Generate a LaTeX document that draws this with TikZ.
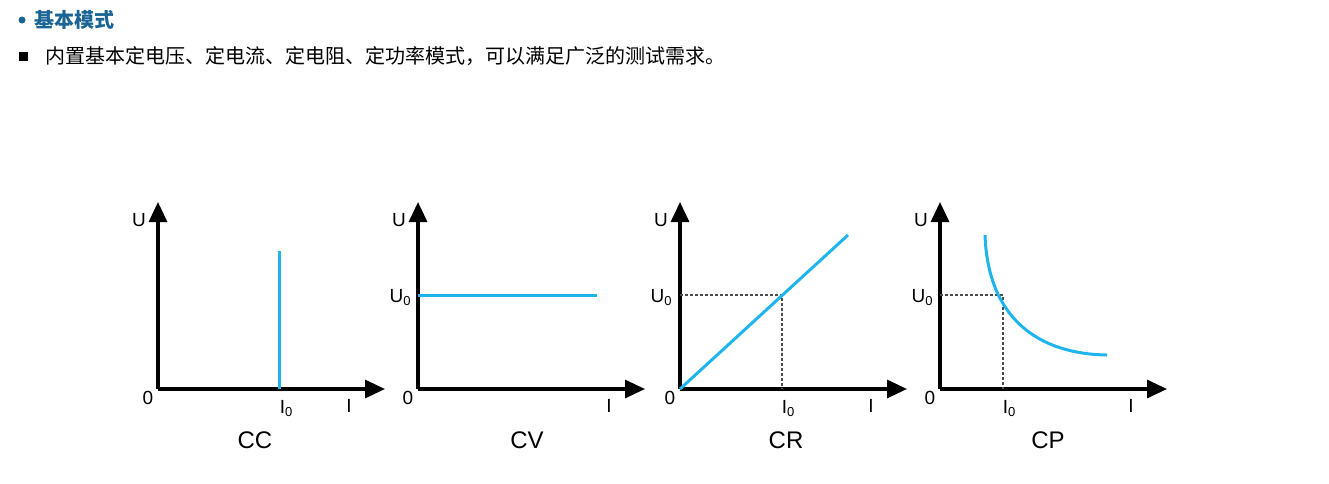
\documentclass[tikz,border=0pt]{standalone}
\usepackage{fontspec}
\setmainfont{Liberation Sans}
\newfontfamily\cjk{Noto Sans CJK SC}
\usetikzlibrary{arrows.meta}
\definecolor{curve}{HTML}{1EB4EC}
\definecolor{head}{HTML}{1A6496}
\newcommand{\zsub}{\raisebox{-0.3ex}{\fontsize{13}{13}\selectfont 0}}
\begin{document}
\begin{tikzpicture}[x=1pt,y=-1pt,
  axis/.style={line width=3.2pt,-{Triangle[length=20pt,width=18pt]}},
  crv/.style={curve,line width=3pt},
  dots/.style={dash pattern=on 3pt off 2pt,line width=1.8pt,gray!60!black},
  lab/.style={font=\fontsize{19}{19}\selectfont,inner sep=0pt},
  ttl/.style={font=\fontsize{24}{24}\selectfont,inner sep=0pt}]
\useasboundingbox (0,0) rectangle (1329,483);
\fill[head] (22,20) circle (3.5pt);
\node[anchor=west,inner sep=0pt,text=head,font=\cjk\bfseries\fontsize{20}{20}\selectfont] (h) at (34,20) {基本模式};
\fill (19,52) rectangle (28,61);
\node[anchor=west,inner sep=0pt,font=\cjk\fontsize{20}{20}\selectfont] (t) at (45,56) {内置基本定电压、定电流、定电阻、定功率模式，可以满足广泛的测试需求。};
\foreach \ox/\nm in {158/a,418/b,680/c,940/d}{
  \coordinate (\nm o) at (\ox,389);
  \coordinate (\nm y) at (\ox,202);
  \coordinate (\nm x) at (\ox+227,389);
  \draw[axis] (\nm o) -- (\nm y);
  \draw[axis] (\nm o) -- (\nm x);
  \node[lab] (\nm U) at (\ox-19,220) {U};
  \node[lab] (\nm 0) at (\ox-10,398) {0};
  \node[lab] (\nm I) at (\ox+191,406) {I};
}
\node[ttl] (cc) at (255,440) {CC};
\node[ttl] (cv) at (527,440) {CV};
\node[ttl] (cr) at (786,440) {CR};
\node[ttl] (cp) at (1048,440) {CP};
% CC
\coordinate (ccb) at (279,389); \coordinate (cct) at (279,251);
\draw[crv] (ccb) -- (cct);
\node[lab] (ai0) at (286,409) {I\zsub};
% CV
\coordinate (cvl) at (418,295); \coordinate (cvr) at (597,295);
\draw[crv] (cvl) -- (cvr);
\node[lab] (bu0) at (400,298) {U\zsub};
% CR
\coordinate (crp) at (782,295); \coordinate (cre) at (848,235);
\draw[dots] (680,295) -- (crp) -- (782,389);
\draw[crv] (co) -- (cre);
\node[lab] (cu0) at (661,298) {U\zsub};
\node[lab] (ci0) at (788,409) {I\zsub};
% CP
\coordinate (cpp) at (1003,295);
\draw[dots] (940,295) -- (cpp) -- (1003,389);
\draw[crv] (985,235) .. controls (988,320) and (1040,354) .. (1107,355);
\node[lab] (du0) at (922,298) {U\zsub};
\node[lab] (di0) at (1009,409) {I\zsub};
\end{tikzpicture}
\end{document}
